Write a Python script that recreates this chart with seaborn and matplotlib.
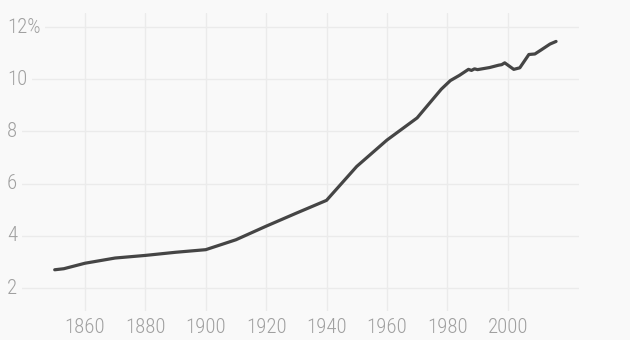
import matplotlib
matplotlib.use("Agg")
import matplotlib.pyplot as plt
from matplotlib import font_manager as fm
import seaborn as sns
import pandas as pd

years = [1850, 1853, 1860, 1870, 1880, 1890, 1900, 1910, 1920, 1930, 1940,
         1950, 1960, 1970, 1978, 1981, 1984, 1987, 1988, 1989, 1990, 1991,
         1994, 1997, 1998, 1999, 2002, 2004, 2007, 2009, 2011, 2014, 2016]
values = [2.70, 2.74, 2.95, 3.15, 3.25, 3.37, 3.47, 3.85, 4.37, 4.87, 5.36,
          6.66, 7.67, 8.52, 9.62, 9.95, 10.15, 10.38, 10.34, 10.40, 10.37, 10.39,
          10.45, 10.54, 10.56, 10.63, 10.38, 10.44, 10.95, 10.97, 11.12, 11.35, 11.45]
x_ticks = [1860, 1880, 1900, 1920, 1940, 1960, 1980, 2000]
y_ticks = [2, 4, 6, 8, 10, 12]
y_labels = ["2", "4", "6", "8", "10", "12%"]

df = pd.DataFrame({"year": years, "value": values})

bg = "#f9f9f9"
sns.set_theme(style="white")

names = {f.name for f in fm.fontManager.ttflist}
family = "DejaVu Sans"
for cand in ["Roboto Condensed", "Liberation Sans Narrow", "Barlow Condensed", "Asap Condensed"]:
    if cand in names:
        family = cand
        break
weight = 300 if any(f.name == family and f.weight == 300 for f in fm.fontManager.ttflist) else "normal"
plt.rcParams["font.family"] = [family, "DejaVu Sans"]

fig = plt.figure(figsize=(6.3, 3.4), dpi=100, facecolor=bg)
ax = fig.add_axes([7/630, 1 - 311/340, (579 - 7)/630, (311 - 13)/340])
ax.set_facecolor(bg)

sns.lineplot(data=df, x="year", y="value", ax=ax, color="#454545", linewidth=2.3)

ax.set_xlim(1834.2, 2023.6)
ax.set_ylim(1.12, 12.54)
for s in ax.spines.values():
    s.set_visible(False)
ax.set_xlabel("")
ax.set_ylabel("")

gc = "#ebebeb"
for yt in y_ticks:
    ax.axhline(yt, color=gc, linewidth=1, zorder=0)
for xt in x_ticks:
    ax.axvline(xt, color=gc, linewidth=1, zorder=0)

ax.set_yticks([])
ax.set_xticks(x_ticks)
ax.set_xticklabels([str(x) for x in x_ticks], color="#a0a0a0", fontsize=15, fontweight=weight)
ax.tick_params(axis="x", length=0, pad=5)

for yt, lab in zip(y_ticks, y_labels):
    ax.text(0, yt, lab, transform=ax.get_yaxis_transform(), ha="left", va="center",
            color="#a0a0a0", fontsize=15, fontweight=weight,
            bbox=dict(facecolor=bg, edgecolor="none", pad=3.5), zorder=3)

fig.savefig("out.png", dpi=100, facecolor=bg)
